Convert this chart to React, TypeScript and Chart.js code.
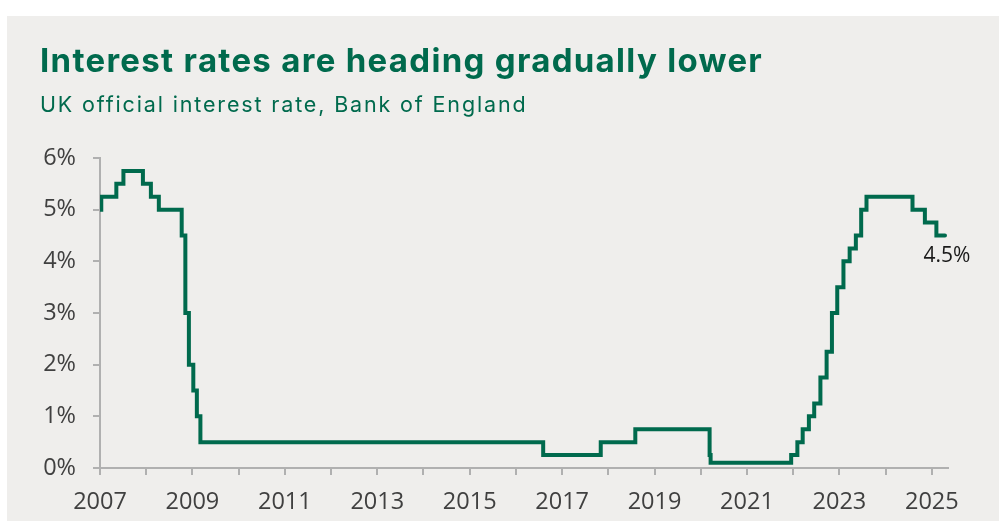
import React, { useEffect, useRef } from "react";
import { Chart, registerables } from "chart.js";

Chart.register(...registerables);

const titleText = "Interest rates are heading gradually lower";
const subtitleText = "UK official interest rate, Bank of England";

// Dates at which Bank Rate changed (value applies from that date onward)
const rateDates = [
  "2007-01-01", "2007-01-11", "2007-05-10", "2007-07-05", "2007-12-06",
  "2008-02-07", "2008-04-10", "2008-10-08", "2008-11-06", "2008-12-04",
  "2009-01-08", "2009-02-05", "2009-03-05", "2016-08-04", "2017-11-02",
  "2018-08-02", "2020-03-11", "2020-03-19", "2021-12-16", "2022-02-03",
  "2022-03-17", "2022-05-05", "2022-06-16", "2022-08-04", "2022-09-22",
  "2022-11-03", "2022-12-15", "2023-02-02", "2023-03-23", "2023-05-11",
  "2023-06-22", "2023-08-03", "2024-08-01", "2024-11-07", "2025-02-06",
  "2025-04-15",
];
const rateValues = [
  5.0, 5.25, 5.5, 5.75, 5.5,
  5.25, 5.0, 4.5, 3.0, 2.0,
  1.5, 1.0, 0.5, 0.25, 0.5,
  0.75, 0.25, 0.1, 0.25, 0.5,
  0.75, 1.0, 1.25, 1.75, 2.25,
  3.0, 3.5, 4.0, 4.25, 4.5,
  5.0, 5.25, 5.0, 4.75, 4.5,
  4.5,
];

const xMin = 2007;
const xMax = 2025.35;
const yTicks = [0, 1, 2, 3, 4, 5, 6];

const GREEN = "#006a4d";
const AXIS = "#b0b0b0";
const TICK_TEXT = "#404040";
const PANEL = "#efeeec";

function toYear(s: string): number {
  const [y, m, d] = s.split("-").map(Number);
  const start = Date.UTC(y, 0, 1);
  const end = Date.UTC(y + 1, 0, 1);
  return y + (Date.UTC(y, m - 1, d) - start) / (end - start);
}

const panelPlugin = {
  id: "panelBg",
  beforeDraw(chart: any) {
    const { ctx, width, height } = chart;
    ctx.save();
    ctx.fillStyle = "#ffffff";
    ctx.fillRect(0, 0, width, height);
    ctx.fillStyle = PANEL;
    ctx.fillRect(7, 16, width - 7, height - 16);
    ctx.restore();
  },
};

const endLabelPlugin = {
  id: "endLabel",
  afterDatasetsDraw(chart: any) {
    const meta = chart.getDatasetMeta(0);
    const pts = meta.data;
    if (!pts.length) return;
    const last = pts[pts.length - 1];
    const v = rateValues[rateValues.length - 1];
    const { ctx } = chart;
    ctx.save();
    ctx.font = "21px 'Open Sans'";
    ctx.fillStyle = "#1a1a1a";
    ctx.textAlign = "center";
    ctx.textBaseline = "middle";
    ctx.fillText(`${v}%`, last.x + 2, last.y + 21);
    ctx.restore();
  },
};

export default function App() {
  const ref = useRef<HTMLCanvasElement | null>(null);

  useEffect(() => {
    if (!ref.current) return;
    const data = rateDates.map((d, i) => ({ x: toYear(d), y: rateValues[i] }));
    const chart = new Chart(ref.current, {
      type: "line",
      data: {
        datasets: [
          {
            data,
            borderColor: GREEN,
            borderWidth: 4,
            stepped: "before",
            pointRadius: 0,
            fill: false,
            borderCapStyle: "round",
            borderJoinStyle: "miter",
          },
        ],
      },
      options: {
        animation: false,
        responsive: false,
        maintainAspectRatio: false,
        layout: { padding: { top: 158, left: 40, right: 51, bottom: 0 } },
        plugins: {
          legend: { display: false },
          tooltip: { enabled: false },
          title: { display: false },
        },
        scales: {
          x: {
            type: "linear",
            min: xMin,
            max: xMax,
            afterFit: (scale: any) => {
              scale.height = 53;
            },
            border: { display: true, color: AXIS, width: 2 },
            grid: {
              drawOnChartArea: false,
              drawTicks: true,
              tickLength: 7,
              color: AXIS,
              lineWidth: 2,
            },
            ticks: {
              stepSize: 1,
              includeBounds: false,
              autoSkip: false,
              maxRotation: 0,
              padding: 13,
              color: TICK_TEXT,
              font: { family: "Open Sans", size: 23.5 },
              callback: (v: any) => (Math.round(v) % 2 === 1 ? String(Math.round(v)) : ""),
            },
          },
          y: {
            type: "linear",
            min: yTicks[0],
            max: yTicks[yTicks.length - 1],
            afterFit: (scale: any) => {
              scale.width = 60;
            },
            border: { display: true, color: AXIS, width: 2 },
            grid: {
              drawOnChartArea: false,
              drawTicks: true,
              tickLength: 7,
              color: AXIS,
              lineWidth: 2,
            },
            ticks: {
              stepSize: 1,
              padding: 17,
              color: TICK_TEXT,
              font: { family: "Open Sans", size: 23.5 },
              callback: (v: any) => `${v}%`,
            },
          },
        },
      },
      plugins: [panelPlugin, endLabelPlugin],
    } as any);
    return () => chart.destroy();
  }, []);

  return (
    <div style={{ position: "absolute", left: 0, top: 0, width: 999, height: 521 }}>
      <canvas ref={ref} width={999} height={521} style={{ width: 999, height: 521, display: "block" }} />
      <div
        style={{
          position: "absolute",
          left: 40,
          top: 44,
          margin: 0,
          fontFamily: "Inter",
          fontWeight: 700,
          fontSize: 33,
          lineHeight: "33px",
          letterSpacing: "1.3px",
          color: GREEN,
          whiteSpace: "nowrap",
        }}
      >
        {titleText}
      </div>
      <div
        style={{
          position: "absolute",
          left: 40,
          top: 94,
          margin: 0,
          fontFamily: "Inter",
          fontWeight: 400,
          fontSize: 21.5,
          lineHeight: "21.5px",
          letterSpacing: "1.85px",
          color: GREEN,
          whiteSpace: "nowrap",
        }}
      >
        {subtitleText}
      </div>
    </div>
  );
}
